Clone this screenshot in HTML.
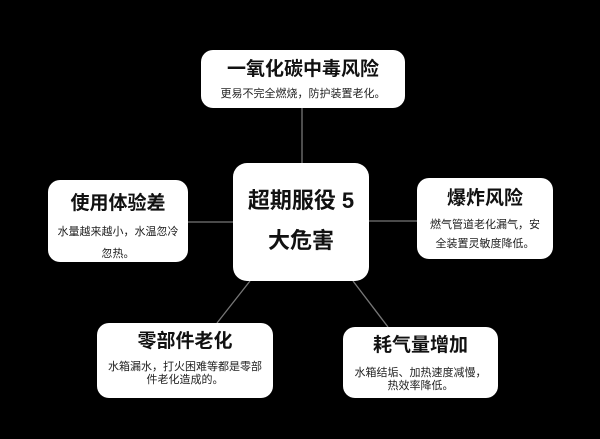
<!DOCTYPE html>
<html><head><meta charset="utf-8"><style>
body{margin:0;width:600px;height:439px;background:#000;position:relative;overflow:hidden;font-family:"Liberation Sans","Noto Sans CJK SC",sans-serif}
.b{position:absolute;background:#fff;border-radius:12px;text-align:center;color:#111}
.t{font-weight:bold;font-size:19px}
.d{font-size:11px;line-height:15px;color:#222}
</style></head><body>
<svg width="600" height="439" style="position:absolute;left:0;top:0">
<g stroke="#777" stroke-width="1.3">
<line x1="302" y1="108" x2="302" y2="164"/>
<line x1="188" y1="222" x2="234" y2="222"/>
<line x1="368" y1="221" x2="418" y2="221"/>
<line x1="250" y1="281" x2="217" y2="323"/>
<line x1="353" y1="281" x2="388" y2="327"/>
</g></svg>
<div class="b" style="left:201px;top:50px;width:204px;height:58px"><div class="t" style="margin-top:4px">一氧化碳中毒风险</div><div class="d" style="margin-top:6px">更易不完全燃烧，防护装置老化。</div></div>
<div class="b" style="left:233px;top:163px;width:136px;height:118px;border-radius:14px"><div style="font-weight:bold;font-size:22px;line-height:40px;margin-top:18px">超期服役 5<br>大危害</div></div>
<div class="b" style="left:48px;top:180px;width:140px;height:82px"><div class="t" style="margin-top:8px">使用体验差</div><div class="d" style="margin-top:6px;line-height:22px">水量越来越小，水温忽冷<br>忽热。</div></div>
<div class="b" style="left:417px;top:178px;width:136px;height:81px"><div class="t" style="margin-top:5px">爆炸风险</div><div class="d" style="margin-top:6px;line-height:19px">燃气管道老化漏气，安<br>全装置灵敏度降低。</div></div>
<div class="b" style="left:97px;top:323px;width:176px;height:75px"><div class="t" style="margin-top:3px">零部件老化</div><div class="d" style="margin-top:8px;line-height:13px">水箱漏水，打火困难等都是零部<br>件老化造成的。</div></div>
<div class="b" style="left:343px;top:327px;width:155px;height:71px"><div class="t" style="margin-top:3px">耗气量增加</div><div class="d" style="margin-top:10px;line-height:13px">水箱结垢、加热速度减慢，<br>热效率降低。</div></div>
</body></html>
